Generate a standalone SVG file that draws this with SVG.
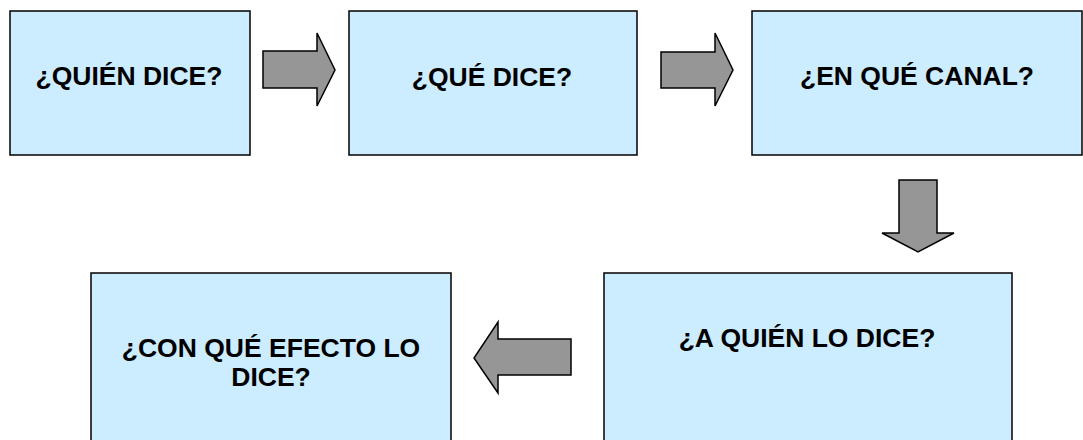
<svg xmlns="http://www.w3.org/2000/svg" width="1083" height="440" viewBox="0 0 1083 440">
<style>
.box{fill:#CCECFF;stroke:#000;stroke-width:1.5}
.arr{fill:#969696;stroke:#000;stroke-width:1.5;stroke-linejoin:miter}
.t{font-family:"Liberation Sans",Arial,sans-serif;font-weight:bold;font-size:26.5px;fill:#000;text-anchor:middle}
</style>
<rect width="1083" height="440" fill="#fff"/>
<g id="n1"><rect class="box" x="10" y="11" width="240" height="144"/><text class="t" x="129" y="85">¿QUIÉN DICE?</text></g>
<g id="n2"><rect class="box" x="349" y="11" width="288" height="144"/><text class="t" x="492" y="86">¿QUÉ DICE?</text></g>
<g id="n3"><rect class="box" x="752" y="11" width="330" height="144"/><text class="t" x="917" y="85">¿EN QUÉ CANAL?</text></g>
<g id="n4"><rect class="box" x="604" y="273" width="408" height="180"/><text class="t" x="807" y="347">¿A QUIÉN LO DICE?</text></g>
<g id="n5"><rect class="box" x="91" y="273" width="360" height="180"/><text class="t" x="271" y="357">¿CON QUÉ EFECTO LO</text><text class="t" x="271" y="386">DICE?</text></g>
<g id="connectors">
<polygon class="arr" points="263,51 317,51 317,33 335,70 317,106 317,88 263,88"/>
<polygon class="arr" points="661,52 715,52 715,33 733,70 715,106 715,88 661,88"/>
<polygon class="arr" points="899,180 937,180 937,233 954,233 918,252 882,233 899,233"/>
<polygon class="arr" points="571,339 498,339 498,322 474,358 498,393 498,375 571,375"/>
</g>
</svg>
